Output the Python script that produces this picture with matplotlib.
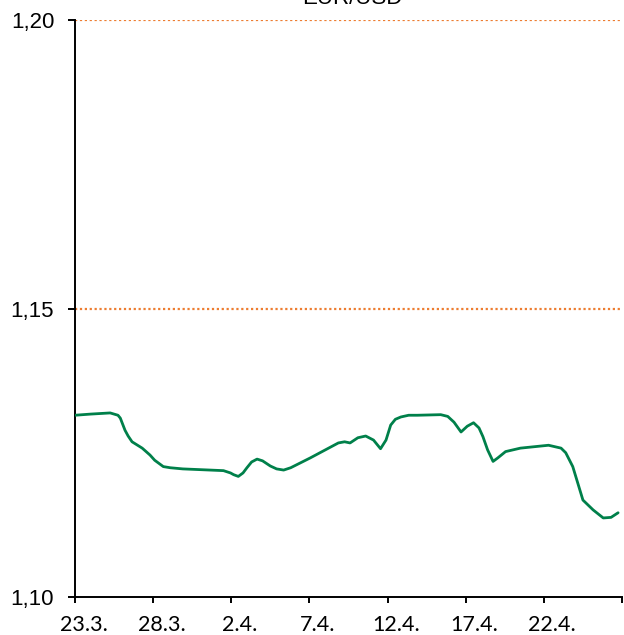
import matplotlib
matplotlib.use("Agg")
import matplotlib.pyplot as plt
import matplotlib.transforms as mtransforms

# EUR/USD, readings taken along the curve (x = days after 23.3.)
days = [0.0, 1.0, 2.25, 2.75, 2.9, 3.2, 3.4, 3.65, 4.3, 4.8, 5.1, 5.65, 6.1, 6.9,
        9.5, 9.95, 10.15, 10.45, 10.75, 11.0, 11.3, 11.65, 12.0, 12.5, 12.9, 13.35,
        13.8, 15.05, 16.85, 17.25, 17.6, 18.1, 18.6, 19.1, 19.55, 19.9, 20.2, 20.5,
        20.85, 21.35, 21.9, 23.4, 23.85, 24.25, 24.7, 25.1, 25.5, 25.85, 26.1, 26.4,
        26.75, 27.05, 27.55, 28.5, 30.3, 31.1, 31.4, 31.85, 32.5, 33.15, 33.8, 34.3,
        34.75]
eurusd = [1.1315, 1.1317, 1.1319, 1.1315, 1.1310, 1.1289, 1.1279, 1.1269, 1.1258,
          1.1246, 1.1237, 1.1226, 1.1224, 1.1222, 1.1219, 1.1215, 1.1212, 1.1209,
          1.1215, 1.1224, 1.1234, 1.1239, 1.1236, 1.1227, 1.1222, 1.1220, 1.1224,
          1.1241, 1.1267, 1.1269, 1.1267, 1.1276, 1.1279, 1.1272, 1.1257, 1.1272,
          1.1298, 1.1308, 1.1312, 1.1315, 1.1315, 1.1316, 1.1313, 1.1303, 1.1286,
          1.1296, 1.1302, 1.1293, 1.1278, 1.1255, 1.1235, 1.1241, 1.1252, 1.1258,
          1.1263, 1.1258, 1.1250, 1.1226, 1.1168, 1.1151, 1.1137, 1.1138, 1.1146]

tick_pos = [0, 5, 10, 15, 20, 25, 30, 35]
tick_labels = ["23.3.", "28.3.", "2.4.", "7.4.", "12.4.", "17.4.", "22.4.", ""]
y_ticks = [1.10, 1.15, 1.20]
y_labels = ["1,10", "1,15", "1,20"]

fig = plt.figure(figsize=(6.24, 6.35), dpi=100)
ax = fig.add_axes([75 / 624, 1 - 597 / 635, 547 / 624, 577 / 635])

# orange dotted gridlines
for v in y_ticks[1:]:
    ax.axhline(v, color="#ED7D31", linestyle=(0, (1, 1.2)), linewidth=1.6, zorder=1)

ax.plot(days, eurusd, color="#00804A", linewidth=2.0, zorder=3,
        solid_joinstyle="round", solid_capstyle="round")

ax.set_xlim(0, 35)
ax.set_ylim(1.10, 1.20)

ax.set_xticks(tick_pos)
ax.set_xticklabels(tick_labels, fontfamily="Lato", fontsize=15.5)
ax.set_yticks(y_ticks)
ax.set_yticklabels(y_labels, fontfamily="Liberation Sans", fontsize=16)

ax.tick_params(axis="x", direction="out", length=4, width=1.4, pad=9)
ax.tick_params(axis="y", direction="out", length=5, width=1.4, pad=10)

# labels sit slightly right of their ticks
shift = mtransforms.ScaledTranslation(8.5 / 100, 0, fig.dpi_scale_trans)
for lab in ax.get_xticklabels():
    lab.set_transform(lab.get_transform() + shift)

for s in ["top", "right"]:
    ax.spines[s].set_visible(False)
for s in ["left", "bottom"]:
    ax.spines[s].set_linewidth(1.4)
    ax.spines[s].set_color("black")

fig.text(352 / 624, 1 - 4 / 635, "EUR/USD", ha="center", va="baseline",
         fontfamily="Liberation Sans", fontsize=16)

fig.savefig("out.png", dpi=100)
